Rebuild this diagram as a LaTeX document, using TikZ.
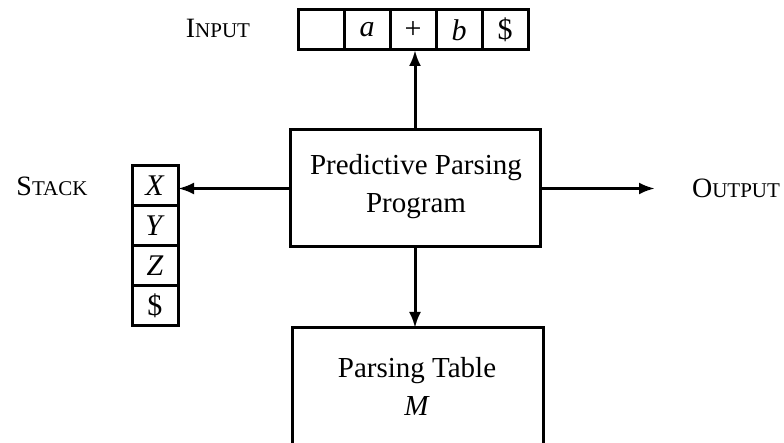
\documentclass[tikz,border=0pt]{standalone}
\usepackage{fontspec}
\setmainfont{Liberation Serif}
\usetikzlibrary{arrows.meta}
\newcommand\fakesc[2]{{\fontsize{14}{16}\selectfont #1\fontsize{10.5}{12}\selectfont #2}}
\begin{document}
\begin{tikzpicture}[x=0.5pt,y=-0.5pt,line width=1.5pt,
  cell/.style={draw,minimum width=23pt,minimum height=20pt,inner sep=0pt,outer sep=0pt,
    font=\fontsize{15}{17}\selectfont},
  bigbox/.style={minimum width=125pt,inner sep=0pt,outer sep=0pt},
  boxtext/.style={align=center,font=\fontsize{14.5}{19}\selectfont},
  lbl/.style={inner sep=0pt,anchor=center},
  arr/.style={-{Latex[length=8pt,width=6pt]}}]
\useasboundingbox (0,0) rectangle (784,443);
% input tape
\node[cell] (t1) at (321,30) {};
\node[cell] (t2) at (367,30) {\textit{a}};
\node[cell] (t3) at (413,30) {+};
\node[cell] (t4) at (459,30) {\textit{b}};
\node[cell] (t5) at (505,30) {\$};
\node[lbl] (inlbl) at (218,28) {\fakesc{I}{NPUT}};
% stack
\node[cell] (sX) at (155,186) {\textit{X}};
\node[cell] (sY) at (155,226) {\textit{Y}};
\node[cell] (sZ) at (155,266) {\textit{Z}};
\node[cell] (sD) at (155,306) {\$};
\node[lbl] (stlbl) at (52,186) {\fakesc{S}{TACK}};
% program
\node[bigbox,draw,minimum height=58.5pt] (prog) at (415,188.5) {};
\node[boxtext] (progtxt) at (416,187) {Predictive Parsing\\Program};
% output
\coordinate (outtip) at (655,188.5);
\node[lbl] (outlbl) at (736,188) {\fakesc{O}{UTPUT}};
% parsing table (open at the bottom)
\node[bigbox,minimum width=125.5pt,minimum height=58pt] (table) at (417.5,386) {};
\draw (table.south west) -- (table.north west) -- (table.north east) -- (table.south east);
\node[boxtext] (tabtxt) at (417,386) {Parsing Table\\\textit{M}};
% connectors
\draw[arr] (prog.north) -- (prog.north |- t3.south);
\draw[arr] (prog.west) -- (prog.west -| sX.east);
\draw[arr] (prog.east) -- (outtip);
\draw[arr] (prog.south) -- (prog.south |- table.north);
\end{tikzpicture}
\end{document}
